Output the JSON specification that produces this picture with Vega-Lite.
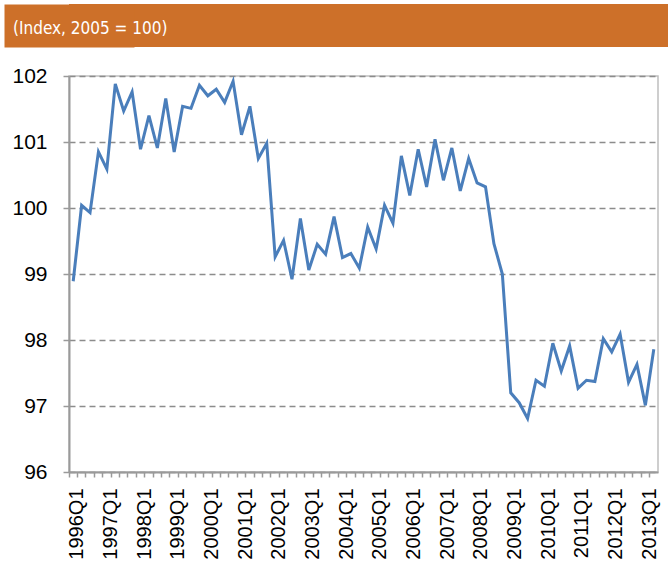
{
  "$schema": "https://vega.github.io/schema/vega-lite/v6.json",
  "padding": {"left": 3, "top": 4, "right": 0, "bottom": 0},
  "background": "white",
  "vconcat": [
    {
      "width": 665,
      "height": 43,
      "view": {"fill": "#CD7029", "stroke": null},
      "data": {"values": [{"label": "(Index, 2005 = 100)"}]},
      "mark": {"type": "text", "align": "left", "baseline": "middle", "dx": -56, "dy": 3, "color": "white", "fontSize": 17, "font": "DejaVu Sans Condensed, sans-serif"},
      "encoding": {
        "x": {"datum": 0, "type": "quantitative", "scale": {"domain": [0, 1]}, "axis": null},
        "y": {"datum": 0.5, "type": "quantitative", "scale": {"domain": [0, 1]},
              "axis": {"title": null, "labels": false, "ticks": false, "grid": false, "domain": true, "domainColor": "#CD7029", "domainWidth": 130, "minExtent": 0}},
        "text": {"field": "label", "type": "nominal"}
      }
    },
    {
      "width": 589,
      "height": 396,
      "view": {"stroke": "#bfbfbf", "strokeWidth": 1.5},
      "data": {
        "values": [
          {"q": "1996Q1", "v": 98.89}, {"q": "1996Q2", "v": 100.04}, {"q": "1996Q3", "v": 99.93}, {"q": "1996Q4", "v": 100.85},
          {"q": "1997Q1", "v": 100.59}, {"q": "1997Q2", "v": 101.88}, {"q": "1997Q3", "v": 101.47}, {"q": "1997Q4", "v": 101.76},
          {"q": "1998Q1", "v": 100.89}, {"q": "1998Q2", "v": 101.40}, {"q": "1998Q3", "v": 100.91}, {"q": "1998Q4", "v": 101.66},
          {"q": "1999Q1", "v": 100.85}, {"q": "1999Q2", "v": 101.54}, {"q": "1999Q3", "v": 101.51}, {"q": "1999Q4", "v": 101.86},
          {"q": "2000Q1", "v": 101.70}, {"q": "2000Q2", "v": 101.80}, {"q": "2000Q3", "v": 101.60}, {"q": "2000Q4", "v": 101.92},
          {"q": "2001Q1", "v": 101.11}, {"q": "2001Q2", "v": 101.54}, {"q": "2001Q3", "v": 100.75}, {"q": "2001Q4", "v": 100.98},
          {"q": "2002Q1", "v": 99.26}, {"q": "2002Q2", "v": 99.51}, {"q": "2002Q3", "v": 98.92}, {"q": "2002Q4", "v": 99.84},
          {"q": "2003Q1", "v": 99.06}, {"q": "2003Q2", "v": 99.45}, {"q": "2003Q3", "v": 99.30}, {"q": "2003Q4", "v": 99.87},
          {"q": "2004Q1", "v": 99.25}, {"q": "2004Q2", "v": 99.31}, {"q": "2004Q3", "v": 99.09}, {"q": "2004Q4", "v": 99.71},
          {"q": "2005Q1", "v": 99.38}, {"q": "2005Q2", "v": 100.04}, {"q": "2005Q3", "v": 99.77}, {"q": "2005Q4", "v": 100.79},
          {"q": "2006Q1", "v": 100.19}, {"q": "2006Q2", "v": 100.89}, {"q": "2006Q3", "v": 100.32}, {"q": "2006Q4", "v": 101.04},
          {"q": "2007Q1", "v": 100.42}, {"q": "2007Q2", "v": 100.91}, {"q": "2007Q3", "v": 100.26}, {"q": "2007Q4", "v": 100.75},
          {"q": "2008Q1", "v": 100.38}, {"q": "2008Q2", "v": 100.32}, {"q": "2008Q3", "v": 99.46}, {"q": "2008Q4", "v": 99.00},
          {"q": "2009Q1", "v": 97.20}, {"q": "2009Q2", "v": 97.05}, {"q": "2009Q3", "v": 96.81}, {"q": "2009Q4", "v": 97.39},
          {"q": "2010Q1", "v": 97.30}, {"q": "2010Q2", "v": 97.95}, {"q": "2010Q3", "v": 97.53}, {"q": "2010Q4", "v": 97.91},
          {"q": "2011Q1", "v": 97.27}, {"q": "2011Q2", "v": 97.39}, {"q": "2011Q3", "v": 97.37}, {"q": "2011Q4", "v": 98.02},
          {"q": "2012Q1", "v": 97.82}, {"q": "2012Q2", "v": 98.09}, {"q": "2012Q3", "v": 97.36}, {"q": "2012Q4", "v": 97.63},
          {"q": "2013Q1", "v": 97.01}, {"q": "2013Q2", "v": 97.86}
        ]
      },
      "mark": {"type": "line", "color": "#4A7EBB", "strokeWidth": 3},
      "encoding": {
        "x": {
          "field": "q", "type": "ordinal", "sort": null,
          "scale": {"type": "band", "paddingInner": 0, "paddingOuter": 0},
          "axis": {
            "title": null, "labelAngle": -90, "labelAlign": "right", "labelBaseline": "middle",
            "labelExpr": "indexof(datum.value, 'Q1') > 0 ? datum.value : ''",
            "labelOverlap": false, "labelPadding": 11, "labelFontSize": 20, "labelColor": "black",
            "labelFont": "Liberation Sans",
            "bandPosition": 0, "labelOffset": 4.2,
            "tickSize": 5, "tickColor": "#9a9a9a", "tickWidth": 1.5,
            "domainColor": "#9a9a9a", "domainWidth": 2, "grid": false
          }
        },
        "y": {
          "field": "v", "type": "quantitative",
          "scale": {"domain": [96, 102], "nice": false, "zero": false},
          "axis": {
            "title": null, "values": [96, 97, 98, 99, 100, 101, 102],
            "labelFontSize": 21, "labelColor": "black", "labelFont": "Liberation Sans", "labelPadding": 16,
            "tickSize": 6, "tickColor": "#9a9a9a", "tickWidth": 1.5,
            "domainColor": "#9a9a9a", "domainWidth": 2,
            "grid": true, "gridColor": "#8c8c8c", "gridDash": [6, 4], "gridWidth": 1.5,
            "minExtent": 65
          }
        }
      }
    }
  ],
  "spacing": 17
}
